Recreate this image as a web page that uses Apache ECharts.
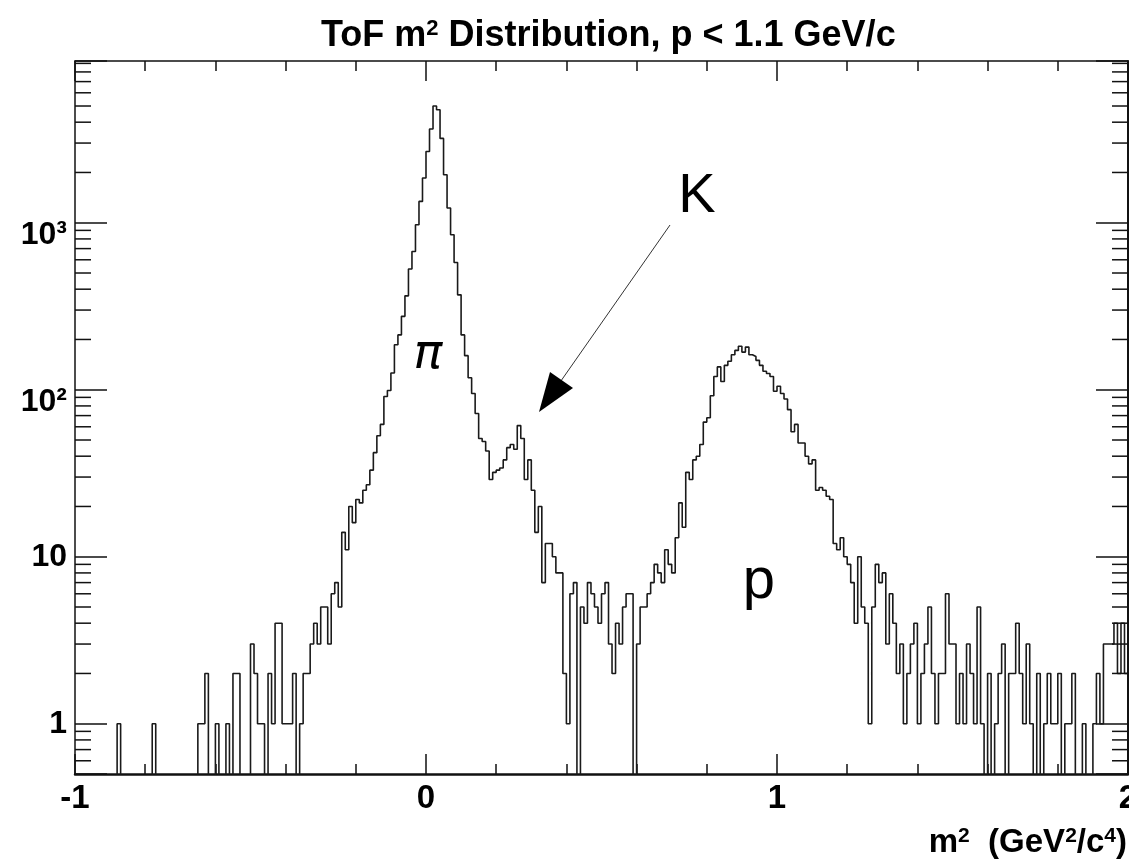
<!DOCTYPE html>
<html>
<head>
<meta charset="utf-8">
<title>ToF m2 Distribution</title>
<script src="https://cdn.jsdelivr.net/npm/echarts@6/dist/echarts.min.js"></script>
<style>
  html, body { margin: 0; padding: 0; background: #fff; }
  #chart { width: 1129px; height: 864px; }
</style>
</head>
<body>
<div id="chart"></div>
<script>
// histogram binning: 300 bins of 0.01 from m2 = -1 to 2
var binStart = -1;
var binWidth = 0.01;
var xMin = -1, xMax = 2;
var yMin = 0.5, yMax = 9300;

// counts per bin (0 = empty bin)
var counts = [
  0, 0, 0, 0, 0, 0, 0, 0, 0, 0,
  0, 0, 1, 0, 0, 0, 0, 0, 0, 0,
  0, 0, 1, 0, 0, 0, 0, 0, 0, 0,
  0, 0, 0, 0, 0, 1, 1, 2, 0, 0,
  1, 0, 0, 1, 0, 2, 2, 0, 0, 0,
  3, 2, 1, 1, 0, 2, 1, 4, 4, 1,
  1, 1, 2, 0, 1, 2, 2, 3, 4, 3,
  5, 5, 3, 6, 7, 5, 14, 11, 20, 16,
  22, 21, 25, 27, 33, 42, 53, 62, 91, 99,
  126, 186, 213, 275, 365, 528, 673, 973, 1342, 1853,
  2673, 3640, 5000, 4750, 3200, 1937, 1225, 848, 578, 370,
  213, 160, 118, 95, 72, 51, 49, 43, 29, 32,
  33, 34, 38, 45, 47, 44, 61, 51, 29, 38,
  25, 14, 20, 7, 12, 12, 10, 8, 8, 2,
  1, 6, 7, 0, 5, 4, 7, 6, 5, 4,
  6, 7, 3, 2, 4, 3, 5, 6, 6, 0,
  3, 5, 5, 6, 7, 9, 8, 7, 11, 9,
  8, 13, 21, 15, 32, 29, 38, 40, 47, 64,
  68, 92, 120, 137, 112, 140, 148, 162, 172, 182,
  168, 180, 162, 158, 150, 140, 129, 125, 120, 98,
  105, 95, 88, 76, 56, 62, 48, 48, 40, 36,
  38, 25, 26, 25, 23, 22, 12, 11, 13, 10,
  9, 7, 4, 10, 5, 4, 1, 5, 9, 7,
  8, 3, 6, 4, 2, 3, 1, 2, 3, 4,
  1, 2, 3, 5, 2, 1, 2, 2, 6, 3,
  3, 1, 2, 1, 3, 2, 1, 5, 1, 0,
  2, 0, 1, 2, 3, 0, 2, 2, 4, 2,
  1, 3, 1, 0, 2, 0, 1, 2, 1, 1,
  2, 0, 1, 1, 2, 0, 0, 1, 0, 0,
  1, 2, 1, 3, 3, 3, 4, 2, 4, 2
];

// minor ticks of the log axis (2..9 x 10^k)
var logMinorTicks = [0.6, 0.7, 0.8, 0.9,
  2, 3, 4, 5, 6, 7, 8, 9,
  20, 30, 40, 50, 60, 70, 80, 90,
  200, 300, 400, 500, 600, 700, 800, 900,
  2000, 3000, 4000, 5000, 6000, 7000, 8000, 9000];

var FONT = '"Liberation Sans", Arial, Helvetica, sans-serif';
var INK = '#111';
var SUP = { 2: '\u00b2', 3: '\u00b3', 4: '\u2074' };

// step points: lower edge of each bin, plus the upper edge of the last one
// empty bins go below the axis so the line drops to the frame like ROOT does
var stepData = [];
for (var i = 0; i < counts.length; i++) {
  var x = +(binStart + i * binWidth).toFixed(2);
  stepData.push([x, counts[i] > 0 ? counts[i] : 0.01]);
}
stepData.push([xMax, counts[counts.length - 1] > 0 ? counts[counts.length - 1] : 0.01]);

function logLabel(v) {
  var e = Math.log10(v);
  var r = Math.round(e);
  if (Math.abs(e - r) > 1e-6) return '';
  if (r === 0) return '{n|1}';
  if (r === 1) return '{n|10}';
  // ROOT puts 10^n a bit below its tick: an empty first line pushes it down
  return '{g| }\n{n|10' + SUP[r] + '}';
}

var chart = echarts.init(document.getElementById('chart'));

var option = {
  backgroundColor: '#fff',
  animation: false,
  grid: { left: 75, right: 1, top: 61, bottom: 90, containLabel: false, outerBoundsMode: 'none' },
  xAxis: [
    {
      type: 'value', min: xMin, max: xMax, interval: 1, position: 'bottom',
      axisLine: { show: true, onZero: false, lineStyle: { color: INK, width: 2.5 } },
      axisTick: { show: true, inside: true, length: 20, lineStyle: { color: INK, width: 1.5 } },
      minorTick: { show: true, splitNumber: 5, length: 10, lineStyle: { color: INK, width: 1.5 } },
      splitLine: { show: false },
      axisLabel: {
        margin: 8, color: '#000', fontFamily: FONT, fontWeight: 'bold', fontSize: 33,
        formatter: function (v) { return String(v); }
      }
    },
    {
      type: 'value', min: xMin, max: xMax, interval: 1, position: 'top',
      axisLine: { show: true, onZero: false, lineStyle: { color: INK, width: 1.5 } },
      axisTick: { show: true, inside: true, length: 20, lineStyle: { color: INK, width: 1.5 } },
      minorTick: { show: true, splitNumber: 5, length: 10, lineStyle: { color: INK, width: 1.5 } },
      splitLine: { show: false },
      axisLabel: { show: false }
    }
  ],
  yAxis: [
    {
      type: 'log', logBase: 10, min: yMin, max: yMax, position: 'left',
      axisLine: { show: true, onZero: false, lineStyle: { color: INK, width: 1.5 } },
      axisTick: { show: true, inside: true, length: 32, lineStyle: { color: INK, width: 1.5 } },
      splitLine: { show: false },
      axisLabel: {
        margin: 8, color: '#000', fontFamily: FONT, fontWeight: 'bold', fontSize: 32,
        formatter: logLabel,
        rich: {
          n: { fontFamily: FONT, fontWeight: 'bold', fontSize: 32, lineHeight: 32 },
          g: { fontFamily: FONT, fontSize: 10, lineHeight: 24 }
        }
      }
    },
    {
      type: 'log', logBase: 10, min: yMin, max: yMax, position: 'right',
      axisLine: { show: true, onZero: false, lineStyle: { color: INK, width: 2 } },
      axisTick: { show: true, inside: true, length: 32, lineStyle: { color: INK, width: 1.5 } },
      splitLine: { show: false },
      axisLabel: { show: false }
    }
  ],
  series: [
    {
      name: 'ToF m2',
      type: 'line',
      step: 'end',
      xAxisIndex: 0, yAxisIndex: 0,
      data: stepData,
      showSymbol: false, symbol: 'none',
      clip: true,
      lineStyle: { color: '#1a1a1a', width: 1.6 },
      z: 3
    },
    {
      // minor log ticks, left and right frame
      name: 'logMinor',
      type: 'custom',
      xAxisIndex: 0, yAxisIndex: 0,
      silent: true,
      clip: false,
      data: logMinorTicks.map(function (v) { return [xMin, v]; }),
      renderItem: function (params, api) {
        var v = api.value(1);
        var l = api.coord([xMin, v]);
        var r = api.coord([xMax, v]);
        var st = { stroke: INK, lineWidth: 1.5 };
        return {
          type: 'group',
          children: [
            { type: 'line', shape: { x1: l[0], y1: l[1], x2: l[0] + 16, y2: l[1] }, style: st },
            { type: 'line', shape: { x1: r[0] - 16, y1: r[1], x2: r[0], y2: r[1] }, style: st }
          ]
        };
      },
      z: 4
    }
  ],
  graphic: [
    {
      type: 'text', left: 321, top: 18,
      style: {
        text: '{t|ToF m}{s|2}{t| Distribution, p < 1.1 GeV/c}',
        fill: '#000',
        rich: {
          t: { fontFamily: FONT, fontWeight: 'bold', fontSize: 36, lineHeight: 36, verticalAlign: 'bottom' },
          s: { fontFamily: FONT, fontWeight: 'bold', fontSize: 22, lineHeight: 22, verticalAlign: 'top' }
        }
      }
    },
    {
      type: 'text', right: 2, top: 826,
      style: {
        text: '{t|m}{s|2}{t|  (GeV}{s|2}{t|/c}{s|4}{t|)}',
        fill: '#000',
        rich: {
          t: { fontFamily: FONT, fontWeight: 'bold', fontSize: 33, lineHeight: 33, verticalAlign: 'bottom' },
          s: { fontFamily: FONT, fontWeight: 'bold', fontSize: 21, lineHeight: 21, verticalAlign: 'top' }
        }
      }
    },
    {
      type: 'text', x: 428, y: 356,
      style: { text: 'π', fill: '#000', font: 'italic 48px "DejaVu Sans", sans-serif',
               align: 'center', verticalAlign: 'middle', textAlign: 'center', textVerticalAlign: 'middle' }
    },
    {
      type: 'text', x: 697, y: 197,
      style: { text: 'K', fill: '#000', font: '56px "Liberation Sans", Arial, sans-serif',
               align: 'center', verticalAlign: 'middle', textAlign: 'center', textVerticalAlign: 'middle' }
    },
    {
      type: 'text', x: 759, y: 582,
      style: { text: 'p', fill: '#000', font: '58px "Liberation Sans", Arial, sans-serif',
               align: 'center', verticalAlign: 'middle', textAlign: 'center', textVerticalAlign: 'middle' }
    },
    {
      type: 'line',
      shape: { x1: 670, y1: 225, x2: 556, y2: 388 },
      style: { stroke: '#333', lineWidth: 1 }
    },
    {
      type: 'polygon',
      shape: { points: [[539, 412], [550, 372], [573, 388]] },
      style: { fill: '#000' }
    }
  ]
};

chart.setOption(option);
</script>
</body>
</html>
